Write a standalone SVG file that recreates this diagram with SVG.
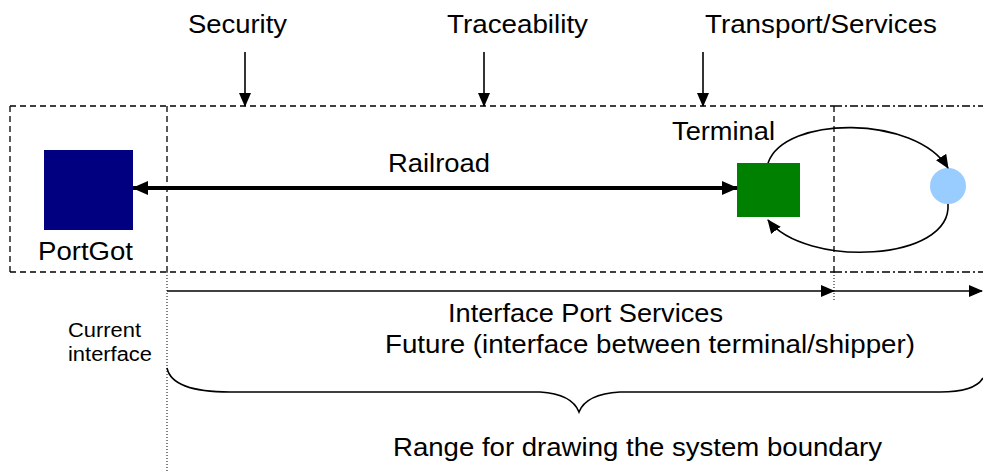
<svg xmlns="http://www.w3.org/2000/svg" width="983" height="471" viewBox="0 0 983 471">
<style>
text{font-family:"Liberation Sans",Arial,sans-serif;fill:#000}
.big{font-size:25px}
.small{font-size:20px}
.dash{fill:none;stroke:#000;stroke-width:1.3;stroke-dasharray:6,4}
.dashdot{fill:none;stroke:#000;stroke-width:1.3;stroke-dasharray:8,3,2,3}
.dot{fill:none;stroke:#000;stroke-width:1;stroke-dasharray:1,2}
.thin{fill:none;stroke:#000;stroke-width:1.6}
.thick{fill:none;stroke:#000;stroke-width:4}
</style>
<defs>
<marker id="ah" markerUnits="userSpaceOnUse" markerWidth="14" markerHeight="12" refX="13" refY="6" orient="auto">
<path d="M0,0 L14,6 L0,12 Z" fill="#000"/>
</marker>
<marker id="ahs" markerUnits="userSpaceOnUse" markerWidth="14" markerHeight="12" refX="1" refY="6" orient="auto">
<path d="M14,0 L0,6 L14,12 Z" fill="#000"/>
</marker>
<marker id="ahb" markerUnits="userSpaceOnUse" markerWidth="16" markerHeight="14" refX="15" refY="7" orient="auto">
<path d="M0,0 L16,7 L0,14 Z" fill="#000"/>
</marker>
<marker id="ahbs" markerUnits="userSpaceOnUse" markerWidth="16" markerHeight="14" refX="1" refY="7" orient="auto">
<path d="M16,0 L0,7 L16,14 Z" fill="#000"/>
</marker>
</defs>

<g id="boundaries">
<line class="dash" x1="10" y1="106" x2="834" y2="106"/>
<line class="dash" x1="10" y1="272" x2="834" y2="272"/>
<line class="dash" x1="10" y1="106" x2="10" y2="272"/>
<line class="dash" x1="167" y1="106" x2="167" y2="272"/>
<line class="dash" x1="834" y1="106" x2="834" y2="272"/>
<line class="dashdot" x1="834" y1="106" x2="983" y2="106"/>
<line class="dashdot" x1="834" y1="272" x2="983" y2="272"/>
<line class="dot" x1="167" y1="272" x2="167" y2="471"/>
<line class="dot" x1="834" y1="272" x2="834" y2="302"/>
</g>

<g id="labels-top">
<text class="big" x="188" y="33" textLength="99" lengthAdjust="spacingAndGlyphs">Security</text>
<text class="big" x="447" y="33" textLength="141" lengthAdjust="spacingAndGlyphs">Traceability</text>
<text class="big" x="705" y="33" textLength="232" lengthAdjust="spacingAndGlyphs">Transport/Services</text>
</g>

<g id="portgot">
<rect x="44" y="150" width="89" height="80" fill="#000080"/>
<text class="big" x="38" y="260" textLength="95" lengthAdjust="spacingAndGlyphs">PortGot</text>
</g>

<g id="terminal">
<rect x="737" y="163" width="63" height="54" fill="#008000"/>
<text class="big" x="672" y="140" textLength="103" lengthAdjust="spacingAndGlyphs">Terminal</text>
</g>

<g id="shipper">
<circle cx="948" cy="186" r="18" fill="#99CCFF"/>
</g>

<g id="connectors">
<line class="thin" x1="245" y1="52" x2="245" y2="106" marker-end="url(#ah)"/>
<line class="thin" x1="484" y1="52" x2="484" y2="106" marker-end="url(#ah)"/>
<line class="thin" x1="703" y1="52" x2="703" y2="106" marker-end="url(#ah)"/>
<line class="thick" x1="133" y1="188" x2="737" y2="188" marker-start="url(#ahbs)" marker-end="url(#ahb)"/>
<path class="thin" d="M768,163 C785,115 915,115 948,168" marker-end="url(#ah)"/>
<path class="thin" d="M948,204 C952,262 805,268 768,220" marker-end="url(#ah)"/>
<line class="thin" x1="167" y1="291" x2="834" y2="291" marker-end="url(#ah)"/>
<line class="thin" x1="834" y1="291" x2="982" y2="291" marker-end="url(#ah)"/>
<path class="thin" d="M167,368 Q172,392 230,392 L540,392 Q572,394 579,412 Q586,394 620,392 L940,392 Q975,392 983,378"/>
</g>

<g id="labels">
<text class="big" x="388" y="172" textLength="102" lengthAdjust="spacingAndGlyphs">Railroad</text>
<text class="big" x="448" y="322" textLength="275" lengthAdjust="spacingAndGlyphs">Interface Port Services</text>
<text class="big" x="385" y="353" textLength="530" lengthAdjust="spacingAndGlyphs">Future (interface between terminal/shipper)</text>
<text class="big" x="393" y="456" textLength="489" lengthAdjust="spacingAndGlyphs">Range for drawing the system boundary</text>
<text class="small" x="68" y="337" textLength="73" lengthAdjust="spacingAndGlyphs">Current</text>
<text class="small" x="68" y="361" textLength="84" lengthAdjust="spacingAndGlyphs">interface</text>
</g>
</svg>
